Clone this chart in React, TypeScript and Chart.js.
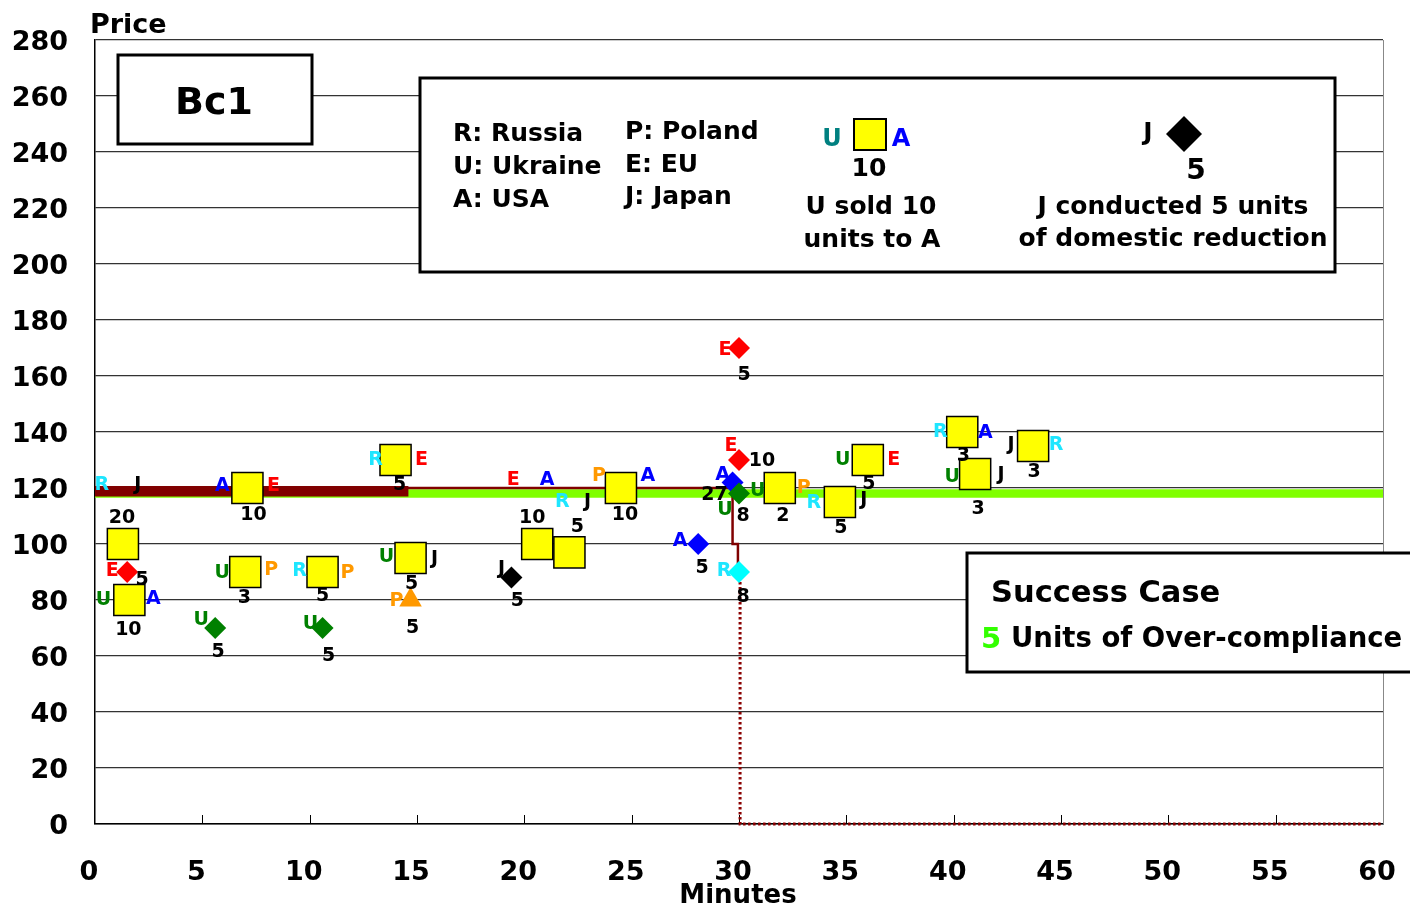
import React, { useEffect, useRef } from 'react';
import { Chart, registerables } from 'chart.js';

Chart.register(...registerables);

const FONT_FAMILY = '"DejaVu Sans", "Liberation Sans", sans-serif';

// ---------------- Axes ----------------
const X_MIN = 0;
const X_MAX = 60;
const X_STEP = 5;
const Y_MIN = 0;
const Y_MAX = 280;
const Y_STEP = 20;

// ---------------- Trades (yellow squares): seller -> buyer, units ----------------
const tradeMinutes = [1.3, 1.6, 7.1, 7.0, 14.0, 10.6, 14.7, 20.6, 22.1, 24.5, 31.9, 34.7, 36.0, 40.4, 41.0, 43.7];
const tradePrice = [100, 80, 120, 90, 130, 90, 95, 100, 97, 120, 120, 115, 130, 140, 125, 135];
const tradeSeller = ['R', 'U', 'A', 'U', 'R', 'R', 'U', 'E', 'R', 'P', 'U', 'R', 'U', 'R', 'U', 'J'];
const tradeBuyer = ['J', 'A', 'E', 'P', 'E', 'P', 'J', 'A', 'J', 'A', 'P', 'J', 'E', 'A', 'J', 'R'];
const tradeUnits = [20, 10, 10, 3, 5, 5, 5, 10, 5, 10, 2, 5, 5, 3, 3, 3];

// ---------------- Domestic reductions (diamonds) ----------------
const reductionMinutes = [1.5, 5.6, 10.6, 19.4, 28.1, 29.7, 30.0, 30.0, 30.0, 30.0];
const reductionPrice = [90, 70, 70, 88, 100, 122, 118, 130, 170, 90];
const reductionActor = ['E', 'U', 'U', 'J', 'A', 'A', 'U', 'E', 'E', 'R'];
const reductionUnits = [5, 5, 5, 5, 5, 27, 8, 10, 5, 8];

// ---------------- Other action (triangle) ----------------
const triangleMinutes = [14.7];
const trianglePrice = [80];
const triangleActor = ['P'];
const triangleUnits = [5];

// ---------------- Lines ----------------
const greenBandMinutes = [0, 60];
const greenBandPrice = [118, 118];
const thickPriceMinutes = [0, 14.6];
const thickPricePrice = [118.8, 118.8];
const priceMinutes = [0, 29.7, 29.7, 29.95, 29.95];
const pricePrice = [120, 120, 100, 100, 90];
const dottedMinutes = [30.05, 30.05, 60];
const dottedPrice = [90, 0, 0];

// ---------------- Styles ----------------
const ACTOR_COLORS: Record<string, string> = {
  R: '#1EE6FF',
  U: '#008000',
  A: '#0000FF',
  E: '#FF0000',
  P: '#FF9900',
  J: '#000000',
};
const MARKER_COLORS: Record<string, string> = {
  R: '#00FFFF',
  U: '#008000',
  A: '#0000FF',
  E: '#FF0000',
  P: '#FF9900',
  J: '#000000',
};

type Off = [number, number];
// label offsets in px: seller, buyer, units
const TRADE_LABEL_OFFSETS: { s: Off; b: Off; u: Off }[] = [
  { s: [-21, -61], b: [15, -61], u: [-1, -28] },
  { s: [-26, -2], b: [24, -3], u: [-1, 28] },
  { s: [-25, -4], b: [26, -4], u: [6, 25] },
  { s: [-23, -1], b: [26, -4], u: [-1, 24] },
  { s: [-20, -2], b: [26, -2], u: [4, 23] },
  { s: [-23, -3], b: [25, -1], u: [0, 22] },
  { s: [-24, -3], b: [24, -1], u: [1, 24] },
  { s: [-24, -66], b: [10, -66], u: [-5, -28] },
  { s: [-7, -52], b: [18, -52], u: [8, -27] },
  { s: [-22, -14], b: [27, -14], u: [4, 25] },
  { s: [-22, 1], b: [24, -2], u: [3, 26] },
  { s: [-26, -1], b: [24, -4], u: [1, 24] },
  { s: [-25, -2], b: [26, -2], u: [1, 22] },
  { s: [-22, -2], b: [23, -1], u: [1, 22] },
  { s: [-23, 1], b: [26, -1], u: [3, 33] },
  { s: [-22, -3], b: [23, -3], u: [1, 24] },
];
const REDUCTION_LABEL_OFFSETS: { a: Off; u: Off }[] = [
  { a: [-15, -3], u: [15, 6] },
  { a: [-14, -10], u: [3, 22] },
  { a: [-12, -6], u: [6, 26] },
  { a: [-10, -11], u: [6, 21] },
  { a: [-18, -5], u: [4, 22] },
  { a: [-10, -9], u: [-18, 11] },
  { a: [-14, 14], u: [4, 20] },
  { a: [-8, -16], u: [23, -1] },
  { a: [-14, 0], u: [5, 25] },
  { a: [-15, -3], u: [4, 23] },
];
const TRIANGLE_LABEL_OFFSETS: { a: Off; u: Off }[] = [{ a: [-14, -1], u: [2, 26] }];

function drawText(
  ctx: CanvasRenderingContext2D,
  text: string,
  x: number,
  cy: number,
  size: number,
  color: string,
  align: CanvasTextAlign = 'center'
) {
  ctx.save();
  ctx.font = `bold ${size}px ${FONT_FAMILY}`;
  ctx.fillStyle = color;
  ctx.textAlign = align;
  ctx.textBaseline = 'alphabetic';
  ctx.fillText(text, x, cy + size * 0.365);
  ctx.restore();
}

function drawBox(ctx: CanvasRenderingContext2D, x: number, y: number, w: number, h: number) {
  ctx.save();
  ctx.fillStyle = '#ffffff';
  ctx.fillRect(x, y, w, h);
  ctx.strokeStyle = '#000000';
  ctx.lineWidth = 3;
  ctx.strokeRect(x, y, w, h);
  ctx.restore();
}

const overlayPlugin = {
  id: 'overlay',
  beforeDatasetsDraw(chart: any) {
    const ctx: CanvasRenderingContext2D = chart.ctx;
    const { chartArea } = chart;
    const xs = chart.scales.x;
    ctx.save();
    // right border
    ctx.strokeStyle = '#888888';
    ctx.lineWidth = 1;
    ctx.beginPath();
    ctx.moveTo(chartArea.right + 0.5, chartArea.top);
    ctx.lineTo(chartArea.right + 0.5, chartArea.bottom);
    ctx.stroke();
    // inner tick marks on x axis
    ctx.strokeStyle = '#000000';
    for (let v = X_MIN + X_STEP; v < X_MAX; v += X_STEP) {
      const px = Math.round(xs.getPixelForValue(v)) + 0.5;
      ctx.beginPath();
      ctx.moveTo(px, chartArea.bottom);
      ctx.lineTo(px, chartArea.bottom - 9);
      ctx.stroke();
    }
    ctx.restore();
  },
  afterDatasetsDraw(chart: any) {
    const ctx: CanvasRenderingContext2D = chart.ctx;
    const xs = chart.scales.x;
    const ys = chart.scales.y;
    const LS = 19;
    tradeMinutes.forEach((m, i) => {
      const px = xs.getPixelForValue(m);
      const py = ys.getPixelForValue(tradePrice[i]);
      const o = TRADE_LABEL_OFFSETS[i];
      drawText(ctx, tradeSeller[i], px + o.s[0], py + o.s[1], LS, ACTOR_COLORS[tradeSeller[i]]);
      drawText(ctx, tradeBuyer[i], px + o.b[0], py + o.b[1], LS, ACTOR_COLORS[tradeBuyer[i]]);
      drawText(ctx, String(tradeUnits[i]), px + o.u[0], py + o.u[1], LS, '#000000');
    });
    reductionMinutes.forEach((m, i) => {
      const px = xs.getPixelForValue(m);
      const py = ys.getPixelForValue(reductionPrice[i]);
      const o = REDUCTION_LABEL_OFFSETS[i];
      drawText(ctx, reductionActor[i], px + o.a[0], py + o.a[1], LS, ACTOR_COLORS[reductionActor[i]]);
      drawText(ctx, String(reductionUnits[i]), px + o.u[0], py + o.u[1], LS, '#000000');
    });
    triangleMinutes.forEach((m, i) => {
      const px = xs.getPixelForValue(m);
      const py = ys.getPixelForValue(trianglePrice[i]);
      const o = TRIANGLE_LABEL_OFFSETS[i];
      drawText(ctx, triangleActor[i], px + o.a[0], py + o.a[1], LS, ACTOR_COLORS[triangleActor[i]]);
      drawText(ctx, String(triangleUnits[i]), px + o.u[0], py + o.u[1], LS, '#000000');
    });
  },
  afterDraw(chart: any) {
    const ctx: CanvasRenderingContext2D = chart.ctx;
    // axis titles
    drawText(ctx, 'Price', 90, 23, 27, '#000', 'left');
    drawText(ctx, 'Minutes', 738, 894, 26, '#000', 'center');

    // Bc1 box
    drawBox(ctx, 118, 55, 194, 89);
    drawText(ctx, 'Bc1', 214, 100, 38, '#000', 'center');

    // legend box
    drawBox(ctx, 420, 78, 915, 194);
    const L = 25;
    drawText(ctx, 'R: Russia', 453, 132, L, '#000', 'left');
    drawText(ctx, 'U: Ukraine', 453, 165, L, '#000', 'left');
    drawText(ctx, 'A: USA', 453, 198, L, '#000', 'left');
    drawText(ctx, 'P: Poland', 625, 130, L, '#000', 'left');
    drawText(ctx, 'E: EU', 625, 163, L, '#000', 'left');
    drawText(ctx, 'J: Japan', 625, 195, L, '#000', 'left');

    drawText(ctx, 'U', 832, 137, 24, '#008080', 'center');
    ctx.save();
    ctx.fillStyle = '#FFFF00';
    ctx.fillRect(854, 119, 32, 31);
    ctx.strokeStyle = '#000';
    ctx.lineWidth = 2;
    ctx.strokeRect(854, 119, 32, 31);
    ctx.restore();
    drawText(ctx, 'A', 901, 137, 24, '#0000FF', 'center');
    drawText(ctx, '10', 869, 167, L, '#000', 'center');
    drawText(ctx, 'U sold 10', 871, 205, L, '#000', 'center');
    drawText(ctx, 'units to A', 872, 238, L, '#000', 'center');

    drawText(ctx, 'J', 1148, 131, L, '#000', 'center');
    ctx.save();
    ctx.fillStyle = '#000';
    ctx.beginPath();
    ctx.moveTo(1184, 116);
    ctx.lineTo(1202, 134);
    ctx.lineTo(1184, 152);
    ctx.lineTo(1166, 134);
    ctx.closePath();
    ctx.fill();
    ctx.restore();
    drawText(ctx, '5', 1196, 169, 28, '#000', 'center');
    drawText(ctx, 'J conducted 5 units', 1173, 205, L, '#000', 'center');
    drawText(ctx, 'of domestic reduction', 1173, 237, L, '#000', 'center');

    // success box
    drawBox(ctx, 967, 553, 460, 119);
    drawText(ctx, 'Success Case', 991, 591, 30.5, '#000', 'left');
    drawText(ctx, '5', 981, 637, 29, '#33FF00', 'left');
    drawText(ctx, 'Units of Over-compliance', 1011, 637, 27.5, '#000', 'left');
  },
};

function pts(xs: number[], ys: number[]) {
  return xs.map((x, i) => ({ x, y: ys[i] }));
}

export default function App() {
  const canvasRef = useRef<HTMLCanvasElement | null>(null);

  useEffect(() => {
    if (!canvasRef.current) return;
    const chart = new Chart(canvasRef.current, {
      type: 'scatter',
      data: {
        datasets: [
          {
            label: 'Over-compliance',
            data: pts(greenBandMinutes, greenBandPrice),
            showLine: true,
            borderColor: '#80FF00',
            borderWidth: 8.5,
            pointRadius: 0,
            order: 10,
            clip: 20,
          } as any,
          {
            label: 'Price (early)',
            data: pts(thickPriceMinutes, thickPricePrice),
            showLine: true,
            borderColor: '#800000',
            borderWidth: 10.5,
            pointRadius: 0,
            order: 9,
            clip: 20,
          },
          {
            label: 'Price',
            data: pts(priceMinutes, pricePrice),
            showLine: true,
            borderColor: '#800000',
            borderWidth: 2.5,
            pointRadius: 0,
            order: 8,
            clip: 20,
          },
          {
            label: 'Closing',
            data: pts(dottedMinutes, dottedPrice),
            showLine: true,
            borderColor: '#8B0000',
            borderWidth: 3,
            borderDash: [2.5, 2.5],
            pointRadius: 0,
            order: 8,
            clip: 20,
          },
          {
            label: 'Trades',
            data: pts(tradeMinutes, tradePrice),
            pointStyle: 'rect',
            pointRadius: 22,
            pointBackgroundColor: '#FFFF00',
            pointBorderColor: '#000000',
            pointBorderWidth: 1.5,
            order: 3,
            clip: 30,
          },
          {
            label: 'Reductions',
            data: pts(reductionMinutes, reductionPrice),
            pointStyle: 'rectRot',
            pointRadius: 11,
            pointBackgroundColor: reductionActor.map((a) => MARKER_COLORS[a]),
            pointBorderColor: reductionActor.map((a) => MARKER_COLORS[a]),
            pointBorderWidth: 0,
            order: 2,
            clip: 30,
          },
          {
            label: 'Other',
            data: pts(triangleMinutes, trianglePrice),
            pointStyle: 'triangle',
            pointRadius: 13,
            pointBackgroundColor: triangleActor.map((a) => MARKER_COLORS[a]),
            pointBorderColor: triangleActor.map((a) => MARKER_COLORS[a]),
            pointBorderWidth: 0,
            order: 1,
            clip: 30,
          },
        ],
      },
      options: {
        animation: false,
        responsive: false,
        devicePixelRatio: 1,
        layout: { padding: { top: 40, right: 27, left: 0, bottom: 0 } },
        plugins: {
          legend: { display: false },
          tooltip: { enabled: false },
        },
        scales: {
          x: {
            type: 'linear',
            min: X_MIN,
            max: X_MAX,
            afterFit: (scale: any) => {
              scale.height = 87;
              scale.paddingLeft = 0;
              scale.paddingRight = 0;
            },
            ticks: {
              stepSize: X_STEP,
              color: '#000',
              font: { family: FONT_FAMILY, size: 27, weight: 'bold' },
              padding: 33,
              labelOffset: -6,
              maxRotation: 0,
            },
            grid: { display: false, drawTicks: false },
            border: { display: true, color: '#000', width: 1.5 },
          },
          y: {
            type: 'linear',
            min: Y_MIN,
            max: Y_MAX,
            afterFit: (scale: any) => {
              scale.width = 95;
              scale.paddingTop = 0;
              scale.paddingBottom = 0;
            },
            ticks: {
              stepSize: Y_STEP,
              color: '#000',
              font: { family: FONT_FAMILY, size: 27, weight: 'bold' },
              padding: 27,
              labelOffset: 3,
            },
            grid: { color: '#333333', lineWidth: 1.2, drawTicks: false },
            border: { display: true, color: '#000', width: 1.5 },
          },
        },
      },
      plugins: [overlayPlugin],
    } as any);
    return () => chart.destroy();
  }, []);

  return (
    <div style={{ position: 'fixed', left: 0, top: 0, width: 1410, height: 911, background: '#fff' }}>
      <canvas ref={canvasRef} width={1410} height={911} style={{ display: 'block' }} />
    </div>
  );
}
